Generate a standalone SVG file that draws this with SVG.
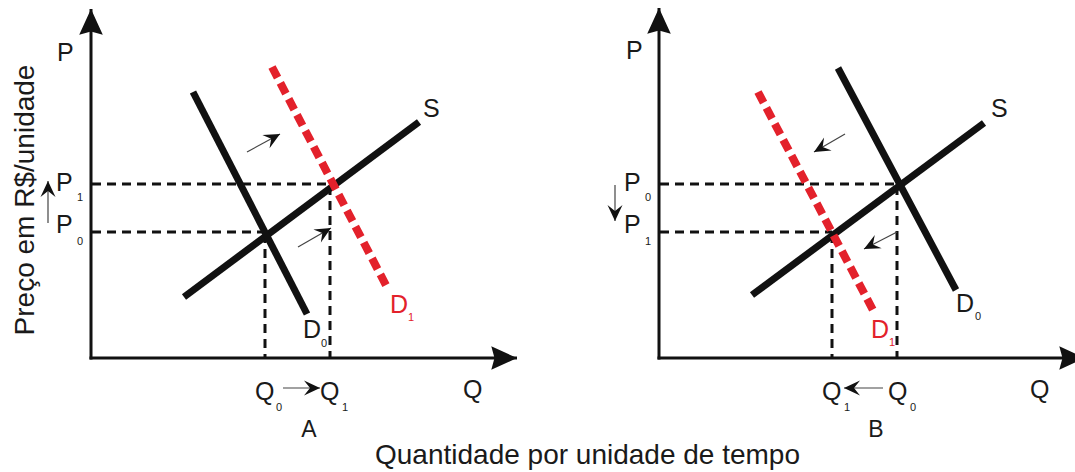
<svg xmlns="http://www.w3.org/2000/svg" width="1075" height="472" viewBox="0 0 1075 472">
<defs>
<style>
.ax{stroke:#111;stroke-width:3;fill:none}
.curve{stroke:#111;stroke-width:7;fill:none}
.red{stroke:#e3212b;stroke-width:8;fill:none;stroke-dasharray:12 6}
.dash{stroke:#111;stroke-width:3;fill:none;stroke-dasharray:9 6}
.sm{stroke:#444;stroke-width:1.2;fill:none;marker-end:url(#barb)}
text{font-family:"Liberation Sans",Arial,sans-serif;fill:#1a1a1a}
.big{font-size:25px}
.sub{font-size:11px}
.lbl{font-size:28px}
.pan{font-size:23px}
.r{fill:#e3212b}
</style>
<marker id="tri" markerUnits="userSpaceOnUse" markerWidth="30" markerHeight="30" viewBox="-26 -13 28 26" refX="0" refY="0" orient="auto">
<path d="M0,0 L-24,-11 L-21,0 L-24,11 Z" fill="#111"/>
</marker>
<marker id="barb" markerUnits="userSpaceOnUse" markerWidth="18" markerHeight="18" viewBox="-17 -9 18 18" refX="0" refY="0" orient="auto">
<path d="M0,0 L-16,-7.5 L-10,0 L-16,7.5 Z" fill="#111"/>
</marker>
</defs>

<g id="yLabel"><text class="lbl" transform="translate(34,200) rotate(-90)" text-anchor="middle">Preço em R$/unidade</text></g>
<g id="xLabel"><text class="lbl" x="375" y="464">Quantidade por unidade de tempo</text></g>

<!-- Panel A -->
<g id="axesA">
<line class="ax" x1="91" y1="359.5" x2="91" y2="9" marker-end="url(#tri)"/>
<line class="ax" x1="89.5" y1="358" x2="517" y2="358" marker-end="url(#tri)"/>
<text class="big" x="57" y="61">P</text>
<text class="big" x="463" y="398">Q</text>
<text class="pan" x="309" y="437" text-anchor="middle">A</text>
</g>
<g id="guidesA">
<line class="dash" x1="92" y1="184" x2="332" y2="184"/>
<line class="dash" x1="92" y1="232" x2="266" y2="232"/>
<line class="dash" x1="265" y1="234" x2="265" y2="357"/>
<line class="dash" x1="330" y1="186" x2="330" y2="357"/>
</g>
<g id="supplyA"><line class="curve" x1="184" y1="297" x2="419" y2="122"/><text class="big" x="423" y="117">S</text></g>
<g id="demandD0A"><line class="curve" x1="193" y1="92" x2="307" y2="314"/><text class="big" x="303" y="338">D</text><text class="sub" x="321" y="347">0</text></g>
<g id="demandD1A"><line class="red" x1="272" y1="67" x2="388" y2="289"/><text class="big r" x="390" y="313">D</text><text class="sub r" x="408" y="321">1</text></g>
<g id="priceLabelsA">
<text class="big" x="56" y="191">P</text><text class="sub" x="77" y="201">1</text>
<text class="big" x="56" y="233">P</text><text class="sub" x="77" y="245">0</text>
</g>
<g id="qtyLabelsA">
<text class="big" x="255" y="400">Q</text><text class="sub" x="276" y="411">0</text>
<text class="big" x="320" y="400">Q</text><text class="sub" x="342" y="411">1</text>
</g>

<!-- Panel B -->
<g id="axesB">
<line class="ax" x1="659" y1="359.5" x2="659" y2="8" marker-end="url(#tri)"/>
<line class="ax" x1="657.5" y1="358" x2="1085" y2="358" marker-end="url(#tri)"/>
<text class="big" x="626" y="59">P</text>
<text class="big" x="1030" y="398">Q</text>
<text class="pan" x="876" y="437" text-anchor="middle">B</text>
</g>
<g id="guidesB">
<line class="dash" x1="660" y1="184" x2="899" y2="184"/>
<line class="dash" x1="660" y1="232" x2="832" y2="232"/>
<line class="dash" x1="832" y1="234" x2="832" y2="357"/>
<line class="dash" x1="897" y1="186" x2="897" y2="357"/>
</g>
<g id="supplyB"><line class="curve" x1="752" y1="295" x2="984" y2="123"/><text class="big" x="991" y="117">S</text></g>
<g id="demandD0B"><line class="curve" x1="838" y1="68" x2="956" y2="290"/><text class="big" x="956" y="312">D</text><text class="sub" x="975" y="320">0</text></g>
<g id="demandD1B"><line class="red" x1="758" y1="92" x2="874" y2="312"/><text class="big r" x="871" y="338">D</text><text class="sub r" x="889" y="346">1</text></g>
<g id="priceLabelsB">
<text class="big" x="624" y="191">P</text><text class="sub" x="645" y="201">0</text>
<text class="big" x="624" y="233">P</text><text class="sub" x="645" y="245">1</text>
</g>
<g id="qtyLabelsB">
<text class="big" x="822" y="400">Q</text><text class="sub" x="844" y="411">1</text>
<text class="big" x="888" y="400">Q</text><text class="sub" x="910" y="411">0</text>
</g>

<g id="connectors">
<line class="sm" x1="247" y1="152" x2="280" y2="134"/>
<line class="sm" x1="298" y1="247" x2="331" y2="228"/>
<line class="sm" x1="48" y1="223" x2="48" y2="181"/>
<line class="sm" x1="283" y1="388" x2="320" y2="388"/>
<line class="sm" x1="845" y1="134" x2="814" y2="152"/>
<line class="sm" x1="897" y1="232" x2="864" y2="249"/>
<line class="sm" x1="615" y1="185" x2="615" y2="221"/>
<line class="sm" x1="883" y1="388" x2="844" y2="388"/>
</g>
</svg>
